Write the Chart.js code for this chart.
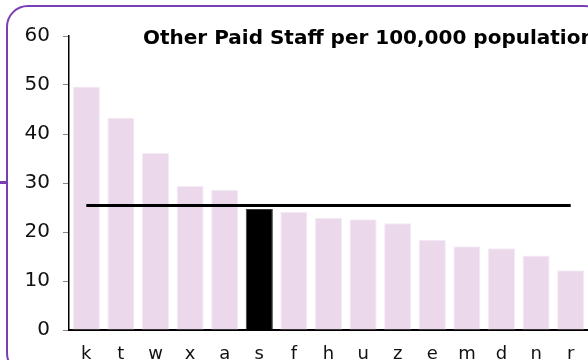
<!DOCTYPE html>
<html>
<head>
<meta charset="utf-8">
<script src="https://cdn.jsdelivr.net/npm/chart.js@4/dist/chart.umd.min.js"></script>
<style>
  html, body { margin: 0; padding: 0; background: #fff; overflow: hidden; }
  #wrap { position: relative; width: 588px; height: 360px; }
  #frame {
    position: absolute; left: 6px; top: 5px; width: 600px; height: 370px;
    border: 2px solid #7b3fb5; border-radius: 22px; box-sizing: border-box;
  }
  #stub { position: absolute; left: 0; top: 181px; width: 8px; height: 3px; background: #7b3fb5; }
  canvas { position: absolute; left: 0; top: 0; }
</style>
</head>
<body>
<div id="wrap">
  <div id="frame"></div>
  <div id="stub"></div>
  <canvas id="staffChart" width="588" height="360"></canvas>
</div>
<script>
// Areas, sorted by staff rate
const categories = ['k', 't', 'w', 'x', 'a', 's', 'f', 'h', 'u', 'z', 'e', 'm', 'd', 'n', 'r'];
const staffRate = [49.7, 43.3, 36.1, 29.4, 28.6, 24.7, 24.1, 22.9, 22.6, 21.8, 18.4, 17.1, 16.7, 15.2, 12.2];
// Overall average, drawn as a flat line across all areas
const average = [25.4, 25.4, 25.4, 25.4, 25.4, 25.4, 25.4, 25.4, 25.4, 25.4, 25.4, 25.4, 25.4, 25.4, 25.4];
const yTicks = [0, 10, 20, 30, 40, 50, 60];
const highlighted = 's';

const titleText = 'Other Paid Staff per 100,000 population';
const fontFamily = '"DejaVu Sans", Verdana, sans-serif';

const barColors = categories.map(c => c === highlighted ? '#000000' : '#ebd8eb');
const barBorders = categories.map(c => c === highlighted ? '#3a3a3a' : '#f4ebf4');

// Title sits inside the plot area, so draw it by hand
const titlePlugin = {
  id: 'insideTitle',
  afterDraw(chart) {
    const ctx = chart.ctx;
    ctx.save();
    ctx.font = 'bold 20px ' + fontFamily;
    ctx.fillStyle = '#000';
    ctx.textAlign = 'left';
    ctx.textBaseline = 'alphabetic';
    ctx.fillText(titleText, 143, 44);
    ctx.restore();
  }
};

const ctx = document.getElementById('staffChart').getContext('2d');

new Chart(ctx, {
  data: {
    labels: categories,
    datasets: [
      {
        type: 'line',
        label: 'Average',
        data: average,
        borderColor: '#000',
        borderWidth: 3,
        pointRadius: 0,
        fill: false,
        order: 0
      },
      {
        type: 'bar',
        label: 'Other Paid Staff',
        data: staffRate,
        backgroundColor: barColors,
        borderColor: barBorders,
        borderWidth: 1,
        categoryPercentage: 0.8,
        barPercentage: 0.98,
        order: 1
      }
    ]
  },
  options: {
    responsive: false,
    animation: false,
    devicePixelRatio: 1,
    layout: { padding: { top: 36, left: 0, right: 0, bottom: 0 } },
    plugins: {
      legend: { display: false },
      title: { display: false },
      tooltip: { enabled: false }
    },
    scales: {
      x: {
        grid: { display: false },
        border: { display: true, color: '#000', width: 2 },
        ticks: {
          color: '#111',
          padding: 6,
          font: { family: fontFamily, size: 18 }
        },
        afterFit(scale) { scale.height = 30; }
      },
      y: {
        min: 0,
        max: 60,
        afterBuildTicks(scale) {
          scale.ticks = yTicks.map(v => ({ value: v }));
        },
        grid: {
          drawOnChartArea: false,
          drawTicks: true,
          tickLength: 6,
          color: '#888'
        },
        border: { display: true, color: '#000', width: 1.5 },
        ticks: {
          color: '#111',
          padding: 13,
          font: { family: fontFamily, size: 20 }
        },
        afterFit(scale) { scale.width = 69; }
      }
    }
  },
  plugins: [titlePlugin]
});
</script>
</body>
</html>
